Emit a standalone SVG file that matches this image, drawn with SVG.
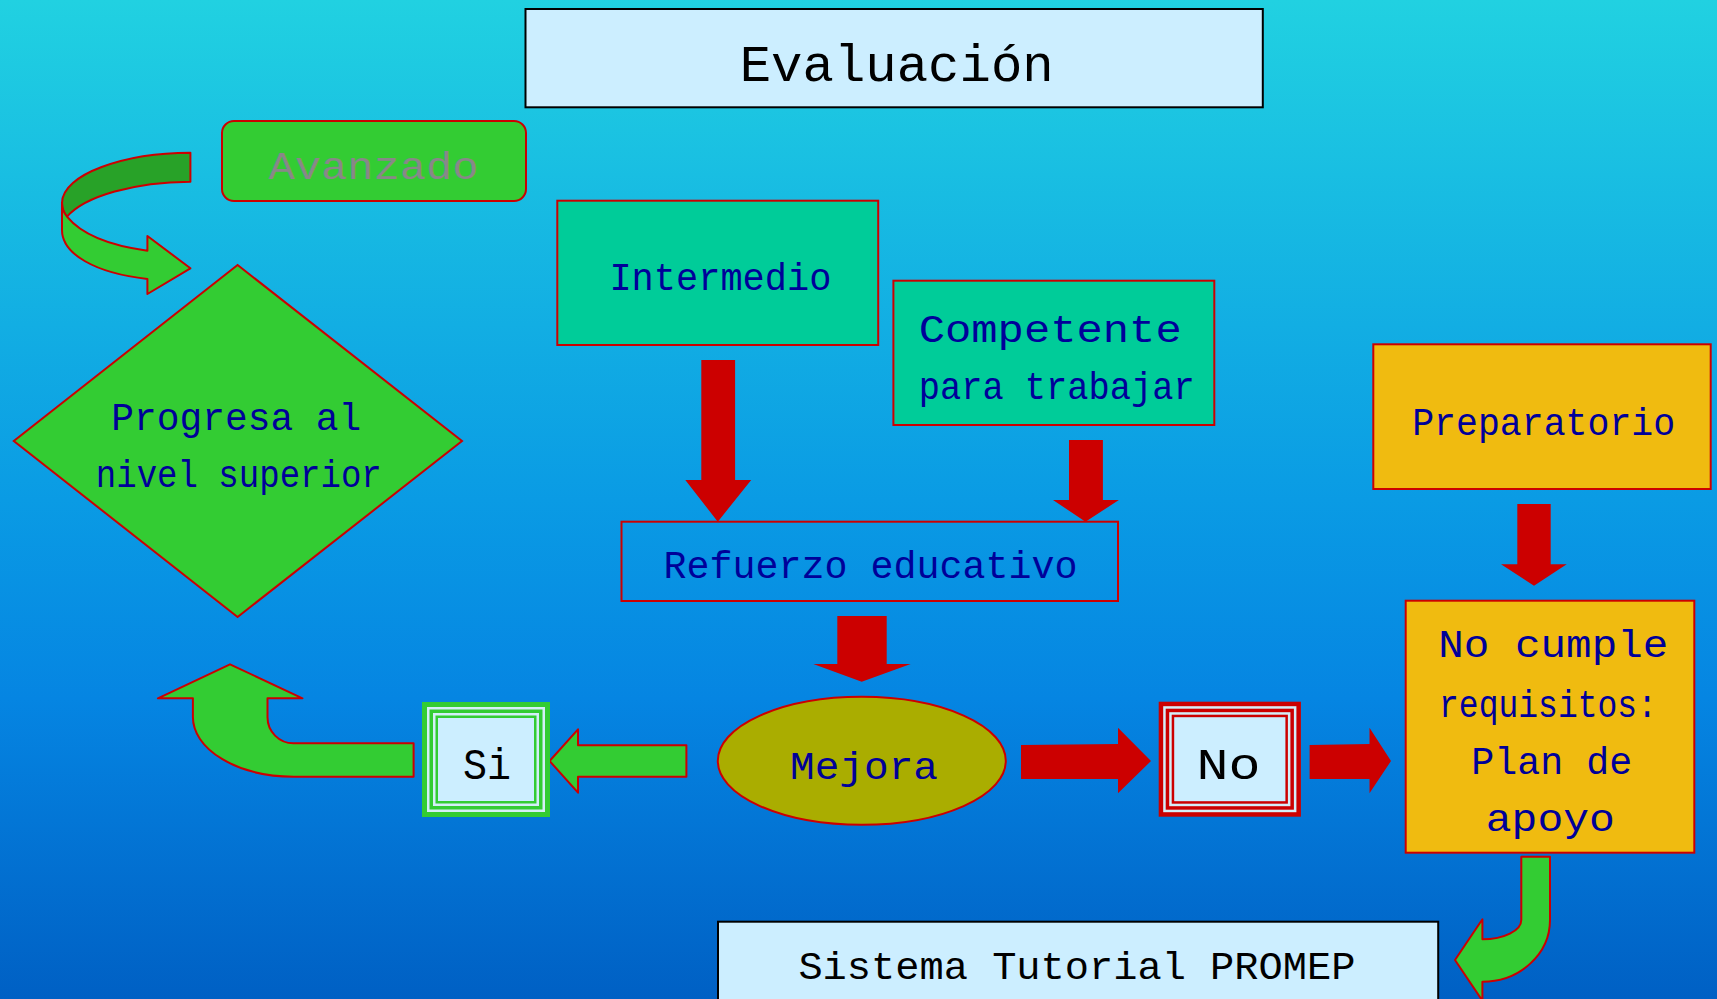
<svg xmlns="http://www.w3.org/2000/svg" width="1717" height="999" viewBox="0 0 1717 999">
<defs>
<linearGradient id="bg" x1="0" y1="0" x2="0" y2="1">
<stop offset="0" stop-color="#21d1e1"/>
<stop offset="0.5" stop-color="#0a9be4"/>
<stop offset="0.7" stop-color="#0585e2"/>
<stop offset="1" stop-color="#0060c4"/>
</linearGradient>
<style>
.t{font-family:"Liberation Mono","Courier New",monospace;font-size:39px;fill:#000099;text-anchor:middle}
.k{fill:#000000}
.box{stroke:#cc0000;stroke-width:2}
.red{fill:#cc0000}
.grn{fill:#33cc33;stroke:#cc0000;stroke-width:2;stroke-linejoin:round}
.lb{fill:#cceeff;stroke:#000000;stroke-width:2}
</style>
</defs>
<rect x="0" y="0" width="1717" height="999" fill="url(#bg)"/>

<g id="connectors">
<path class="grn" style="fill:#28a228" d="M190.4,152.7 L190.4,181.7 C135,182 85,196 67,216.7 C63,212 62,207 62,203 C62,174 125,152.7 190.4,152.7 Z"/>
<path class="grn" d="M62,203 C62,208 64,213 67,216.7 C82,235 112,246 147.4,250.7 L147.4,236 L190.4,268.3 L147.4,294 L147.4,279 C95,273 62,254 62,230 Z"/>
<polygon class="red" points="701.3,360 735.1,360 735.1,480 751.2,480 717.8,521.7 685.3,480 701.3,480"/>
<polygon class="red" points="1069,440 1102.9,440 1102.9,500 1118.9,500 1085.5,521.7 1053,500 1069,500"/>
<polygon class="red" points="837.3,616 886.7,616 886.7,664 910.7,664 861.7,681.7 813.3,664 837.3,664"/>
<polygon class="red" points="1517.3,504 1550.7,504 1550.7,564.3 1566.7,564.3 1534,585.7 1501,564.3 1517.3,564.3"/>
<polygon class="red" points="1021,745 1118,744 1118,727.7 1151,761 1118,793.3 1118,779 1021,779"/>
<polygon class="red" points="1309.6,745 1369.5,744 1369.5,727.7 1391,761 1369.5,793.3 1369.5,779 1309.6,779"/>
<polygon class="grn" points="686.4,745.3 578,745.3 578,729.3 549.6,761 578,792.7 578,776.7 686.4,776.7"/>
<path class="grn" d="M413.6,743.3 L293.6,743.3 A26,26 0 0 1 267.5,717 L267.5,698.3 L302.5,698.3 L230,664.3 L157.9,698.3 L192.9,698.3 L192.9,717 A100.7,59.7 0 0 0 293.6,776.7 L413.6,776.7 Z"/>
<path class="grn" d="M1521.3,856.7 L1550,856.7 L1550,920 A67.6,61.7 0 0 1 1482.4,981.7 L1482.4,1000.7 L1455,960 L1482.4,919.3 L1482.4,939.3 A38.9,19.3 0 0 0 1521.3,920 Z"/>
</g>

<g id="title">
<rect class="lb" x="525.5" y="9" width="737.3" height="98.3"/>
<text class="t k" x="896.7" y="81" style="font-size:52px" textLength="314" lengthAdjust="spacingAndGlyphs">Evaluación</text>
</g>

<g id="avanzado">
<rect class="box" x="222" y="121" width="304" height="80" rx="12" ry="12" fill="#33cc33"/>
<text class="t" x="373.6" y="179" style="fill:#888888" textLength="210" lengthAdjust="spacingAndGlyphs">Avanzado</text>
</g>

<g id="progresa">
<polygon class="box" points="237.6,265 462,441 237.6,617 13.8,441" fill="#33cc33"/>
<text class="t" x="236.3" y="430" textLength="250" lengthAdjust="spacingAndGlyphs">Progresa al</text>
<text class="t" x="238.8" y="487" textLength="286" lengthAdjust="spacingAndGlyphs">nivel superior</text>
</g>

<g id="intermedio">
<rect class="box" x="557.3" y="200.7" width="320.9" height="144.3" fill="#00cc99"/>
<text class="t" x="720.4" y="290" textLength="222" lengthAdjust="spacingAndGlyphs">Intermedio</text>
</g>

<g id="competente">
<rect class="box" x="893.4" y="280.7" width="320.9" height="144.3" fill="#00cc99"/>
<text class="t" x="1050.2" y="341.7" textLength="263" lengthAdjust="spacingAndGlyphs">Competente</text>
<text class="t" x="1056.7" y="399.3" textLength="276" lengthAdjust="spacingAndGlyphs">para trabajar</text>
</g>

<g id="refuerzo">
<rect class="box" x="621.5" y="521.7" width="496.5" height="79.3" fill="none"/>
<text class="t" x="870.6" y="578.3" textLength="414" lengthAdjust="spacingAndGlyphs">Refuerzo educativo</text>
</g>

<g id="mejora">
<ellipse class="box" cx="861.8" cy="760.8" rx="144" ry="64" fill="#aaad00"/>
<text class="t" x="864" y="779" textLength="148" lengthAdjust="spacingAndGlyphs">Mejora</text>
</g>

<g id="si">
<rect x="422" y="702" width="128" height="115" fill="#33cc33"/>
<rect x="427" y="707" width="118" height="105" fill="#d4eef8"/>
<rect x="429.5" y="709.5" width="113" height="100" fill="#33cc33"/>
<rect x="433" y="713" width="106" height="93" fill="#d4eef8"/>
<rect x="435.5" y="715.5" width="101" height="88" fill="#33cc33"/>
<rect x="438" y="718" width="96" height="83" fill="#cceeff"/>
<text class="t k" x="487" y="779" style="font-size:44px" textLength="48" lengthAdjust="spacingAndGlyphs">Si</text>
</g>

<g id="no">
<rect x="1158.7" y="701.7" width="142.2" height="115" fill="#cc0000"/>
<rect x="1163.2" y="706.2" width="133.2" height="106" fill="#d4eef8"/>
<rect x="1165.7" y="708.7" width="128.2" height="101" fill="#cc0000"/>
<rect x="1169.2" y="712.2" width="121.2" height="94" fill="#d4eef8"/>
<rect x="1171.7" y="714.7" width="116.2" height="89" fill="#cc0000"/>
<rect x="1174.2" y="717.2" width="111.2" height="84" fill="#cceeff"/>
<text class="t k" x="1228.6" y="779.3" style="font-size:44px" textLength="64" lengthAdjust="spacingAndGlyphs">No</text>
</g>

<g id="preparatorio">
<rect class="box" x="1373.3" y="344.3" width="337.4" height="144.7" fill="#f0bb10"/>
<text class="t" x="1543.7" y="435" textLength="263" lengthAdjust="spacingAndGlyphs">Preparatorio</text>
</g>

<g id="nocumple">
<rect class="box" x="1405.7" y="600.7" width="288.6" height="252" fill="#f0bb10"/>
<text class="t" x="1553.3" y="657.3" textLength="230" lengthAdjust="spacingAndGlyphs">No cumple</text>
<text class="t" x="1548" y="716.7" textLength="218" lengthAdjust="spacingAndGlyphs">requisitos:</text>
<text class="t" x="1551.7" y="774" textLength="161" lengthAdjust="spacingAndGlyphs">Plan de</text>
<text class="t" x="1550.3" y="830.7" textLength="129" lengthAdjust="spacingAndGlyphs">apoyo</text>
</g>

<g id="sistema">
<rect class="lb" x="718" y="921.7" width="720.2" height="90"/>
<text class="t k" x="1076.9" y="979" textLength="557" lengthAdjust="spacingAndGlyphs">Sistema Tutorial PROMEP</text>
</g>
</svg>
